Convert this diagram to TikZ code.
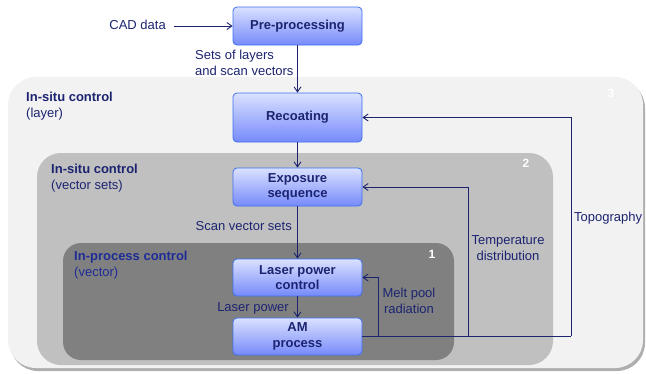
\documentclass[tikz,border=0pt]{standalone}
\usepackage{fontspec}
\setmainfont{Liberation Sans}
\usetikzlibrary{arrows.meta}
\definecolor{navy}{RGB}{28,36,112}
\definecolor{boxtop}{RGB}{218,225,255}
\definecolor{boxbot}{RGB}{118,138,250}
\definecolor{boxline}{RGB}{62,112,240}
\definecolor{regA}{RGB}{242,242,242}
\definecolor{regB}{RGB}{192,192,192}
\definecolor{regC}{RGB}{128,128,128}
\definecolor{shad}{RGB}{175,175,175}
\definecolor{procblue}{RGB}{30,44,150}
\tikzset{
  stepbox/.style={draw=boxline, line width=0.8pt, rounded corners=4pt,
    top color=boxtop, bottom color=boxbot, minimum width=129pt,
    text=navy, font=\fontsize{13}{15.5}\selectfont\bfseries, align=center, inner sep=2pt},
  lbl/.style={text=navy, font=\fontsize{13}{16}\selectfont, inner sep=0pt},
  rtitle/.style={text=navy, font=\fontsize{13}{16}\selectfont, align=left, inner sep=0pt, anchor=north west},
  num/.style={text=white, font=\fontsize{12}{14}\selectfont\bfseries, inner sep=0pt},
  conn/.style={draw=navy, line width=0.9pt, -{Straight Barb[length=5pt,width=7pt]}},
  wire/.style={draw=navy, line width=0.9pt}
}
\begin{document}
\begin{tikzpicture}[x=1pt,y=-1pt]
\useasboundingbox (0,0) rectangle (646,373);
% regions
\fill[shad, rounded corners=28pt] (10,80) rectangle (645,371);
\fill[regA, rounded corners=28pt] (8,77) rectangle (643,368);
\fill[regB, rounded corners=24pt] (37,153) rectangle (553,365);
\fill[regC, rounded corners=18pt] (63,243) rectangle (454,360);
\node[num] (n3) at (611,93) {3};
\node[num] (n2) at (526,163) {2};
\node[num] (n1) at (432,254) {1};
\node[rtitle] (t3) at (26,92) {\textbf{In-situ control}\\(layer)};
\node[rtitle] (t2) at (51,164) {\textbf{In-situ control}\\(vector sets)};
\node[rtitle, text=procblue] (t1) at (74,251) {\textbf{In-process control}\\(vector)};
% boxes
\node[stepbox, minimum height=38pt] (pre) at (297.5,26) {Pre-processing};
\node[stepbox, minimum height=49pt] (rec) at (297.5,117.5) {Recoating};
\node[stepbox, minimum height=38pt] (exp) at (297.5,187) {Exposure\\sequence};
\node[stepbox, minimum height=37pt] (lpc) at (297.5,277.5) {Laser power\\control};
\node[stepbox, minimum height=37pt] (am) at (297.5,336.5) {AM\\process};
% forward arrows
\coordinate (cad) at (174,26);
\node[lbl, anchor=east] (cadl) at (166,25) {CAD data};
\draw[conn] (cad) -- (pre.west);
\draw[conn] (pre.south) -- (rec.north);
\draw[conn] (rec.south) -- (exp.north);
\draw[conn] (exp.south) -- (lpc.north);
\draw[conn] (lpc.south) -- (am.north);
\node[lbl, align=left, anchor=west] (sets) at (195,63) {Sets of layers\\and scan vectors};
\node[lbl, anchor=east] (svs) at (292,226) {Scan vector sets};
\node[lbl, anchor=east] (lp) at (289,308) {Laser power};
% feedback
\coordinate (topo) at (571,336);
\coordinate (temp) at (468,336);
\coordinate (melt) at (378,336);
\draw[wire] (am.east |- topo) -- (topo);
\draw[conn] (topo) |- (rec.east);
\draw[conn] (temp) |- (exp.east);
\draw[conn] (melt) |- (lpc.east);
\node[lbl, anchor=west] (topol) at (574,218) {Topography};
\node[lbl, align=center] (templ) at (508,248) {Temperature\\distribution};
\node[lbl, align=center] (meltl) at (409,301) {Melt pool\\radiation};
\end{tikzpicture}
\end{document}
